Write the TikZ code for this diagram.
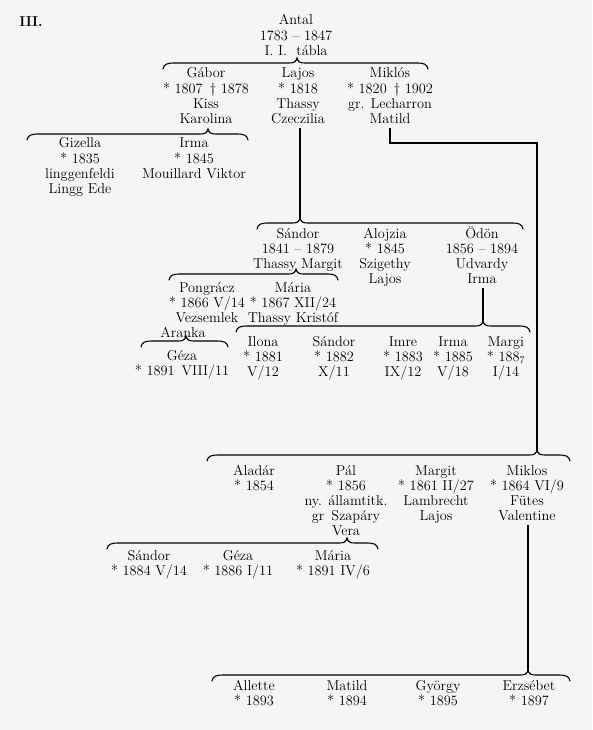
\documentclass[tikz,border=0pt]{standalone}
\usepackage{fontspec}
\newcommand\famtext[1]{\begin{tabular}[t]{@{}c@{}}#1\end{tabular}}
\newcommand\st{{*}}
% #1 name of tip coordinate, #2 left x, #3 right x, #4 tip x, #5 y
\newcommand\fbrace[5]{%
  \coordinate (#1) at (#4,#5-5);
  \draw[brc] (#2,#5+6) .. controls (#2+1,#5+1) and (#2+4,#5) .. (#2+12,#5)
    -- (#4-8,#5) .. controls (#4-3,#5) and (#4-1,#5-1) .. (#1)
    .. controls (#4+1,#5-1) and (#4+3,#5) .. (#4+8,#5)
    -- (#3-12,#5) .. controls (#3-4,#5) and (#3-1,#5+1) .. (#3,#5+6);}
\tikzset{
  person/.style={anchor=base, inner sep=0pt, font=\fontsize{14.3}{15.2}\selectfont},
  brc/.style={line width=1.1pt, line cap=round},
  link/.style={line width=1.2pt},
}
\begin{document}
\begin{tikzpicture}[x=1pt,y=-1pt]
\useasboundingbox[fill=black!4] (0,0) rectangle (592,730);

\node[person] (title) at (31,27) {\textbf{III.}};

\node[person] (antal) at (296,25) {\famtext{Antal\\1783 – 1847\\I. I.\ \ tábla}};

\node[person] (gabor) at (206,78) {\famtext{Gábor\\\st{} 1807\enspace † 1878\\Kiss\\Karolina}};
\node[person] (lajos) at (298,78) {\famtext{Lajos\\\st{} 1818\\Thassy\\Czeczilia}};
\node[person] (miklos) at (390,78) {\famtext{Miklós\\\st{} 1820\enspace † 1902\\gr. Lecharron\\Matild}};

\node[person] (gizella) at (80,148) {\famtext{Gizella\\\st{} 1835\\linggenfeldi\\Lingg Ede}};
\node[person] (irma) at (194,148) {\famtext{Irma\\\st{} 1845\\Mouillard Viktor}};

\node[person] (sandor) at (298,238) {\famtext{Sándor\\1841 – 1879\\Thassy Margit}};
\node[person] (alojzia) at (385,238) {\famtext{Alojzia\\\st{} 1845\\Szigethy\\Lajos}};
\node[person] (odon) at (482,238) {\famtext{Ödön\\1856 – 1894\\Udvardy\\Irma}};

\node[person] (pongracz) at (207,292) {\famtext{Pongrácz\\\st{} 1866 V/14\\Vezsemlek}};
\node[person] (aranka) at (183,337.6) {Aranka};
\node[person] (maria) at (293,292) {\famtext{Mária\\\st{} 1867 XII/24\\Thassy Kristóf}};

\node[person] (geza) at (182,360) {\famtext{Géza\\\st{} 1891\enspace VIII/11}};

\node[person] (ilona) at (263,346) {\famtext{Ilona\\\st{} 1881\\V/12}};
\node[person] (sandorb) at (334,346) {\famtext{Sándor\\\st{} 1882\\X/11}};
\node[person] (imre) at (403,346) {\famtext{Imre\\\st{} 1883\\IX/12}};
\node[person] (irmab) at (453,346) {\famtext{Irma\\\st{} 1885\\V/18}};
\node[person] (margi) at (506,346) {\famtext{Margi\\\st{} 188$_7$\\I/14}};

\node[person] (aladar) at (254,475) {\famtext{Aladár\\\st{} 1854}};
\node[person] (pal) at (346,475) {\famtext{Pál\\\st{} 1856\\ny. államtitk.\\gr\enspace Szapáry\\Vera}};
\node[person] (margit) at (436,475) {\famtext{Margit\\\st{} 1861 II/27\\Lambrecht\\Lajos}};
\node[person] (miklosb) at (527,475) {\famtext{Miklos\\\st{} 1864 VI/9\\Fütes\\Valentine}};

\node[person] (sandorc) at (149,560) {\famtext{Sándor\\\st{} 1884 V/14}};
\node[person] (gezab) at (238,560) {\famtext{Géza\\\st{} 1886 I/11}};
\node[person] (mariab) at (333,560) {\famtext{Mária\\\st{} 1891 IV/6}};

\node[person] (allette) at (254,690) {\famtext{Allette\\\st{} 1893}};
\node[person] (matild) at (347,690) {\famtext{Matild\\\st{} 1894}};
\node[person] (gyorgy) at (438,690) {\famtext{György\\\st{} 1895}};
\node[person] (erzsebet) at (529,690) {\famtext{Erzsébet\\\st{} 1897}};

% braces
\fbrace{tipA}{163}{428}{297}{63}
\fbrace{tipG}{27}{248}{208}{134}
\fbrace{tipL}{257}{523}{300}{223}
\fbrace{tipS}{169}{338}{296}{274}
\fbrace{tipP}{141}{228}{186}{341}
\fbrace{tipO}{236}{530}{483}{326}
\fbrace{tipM}{207}{570}{537}{455}
\fbrace{tipV}{107}{378}{347}{543}
\fbrace{tipE}{212}{570}{528}{675}

% connectors
\coordinate (mcorner) at (537,143);
\draw[link] (tipL |- lajos.south) -- (tipL);
\draw[link] (miklos.south) |- (mcorner) -- (tipM);
\draw[link] (tipO |- odon.south) -- (tipO);
\draw[link] (tipE |- miklosb.south) -- (tipE);
\end{tikzpicture}
\end{document}
